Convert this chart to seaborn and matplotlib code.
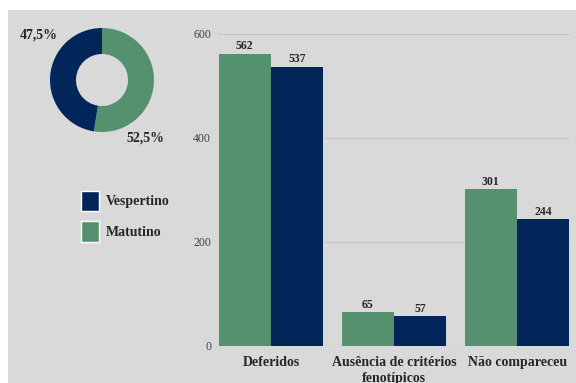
import seaborn as sns
import matplotlib.pyplot as plt
import pandas as pd
from matplotlib.patches import Rectangle, Patch

# dados
categorias = ["Deferidos", "Ausência de critérios\nfenotípicos", "Não compareceu"]
matutino = [562, 65, 301]
vespertino = [537, 57, 244]
turnos = ["Matutino", "Vespertino"]
pct_pizza = [52.5, 47.5]
rotulos_pizza = ["52,5%", "47,5%"]
yticks = [0, 200, 400, 600]

verde = "#56916f"
azul = "#03265a"
fundo = "#d9d9d9"

df = pd.DataFrame({
    "categoria": categorias * 2,
    "turno": ["Matutino"] * 3 + ["Vespertino"] * 3,
    "valor": matutino + vespertino,
})

sns.set_style("white")
plt.rcParams["font.family"] = ["Liberation Serif", "DejaVu Serif"]

fig = plt.figure(figsize=(5.76, 3.83), dpi=100, facecolor="white")
fig.add_artist(Rectangle((8 / 576, 0), 1, 1 - 10 / 383, transform=fig.transFigure,
                         facecolor=fundo, edgecolor="none", zorder=-10))

# barras
ax = fig.add_axes([218 / 576, 1 - 346 / 383, 352 / 576, 312 / 383])
ax.set_facecolor(fundo)
sns.barplot(data=df, x="categoria", y="valor", hue="turno", hue_order=turnos,
            palette=[verde, azul], width=0.85, ax=ax, legend=False, zorder=3,
            saturation=1, linewidth=0)
for cont in ax.containers:
    ax.bar_label(cont, fontsize=8.5, fontweight="bold", padding=1)
ax.set_ylim(0, 600)
ax.set_xlim(-0.43, 2.43)
ax.set_yticks(yticks)
ax.yaxis.grid(True, color="#c6c6c6", linewidth=0.8, zorder=0)
ax.tick_params(axis="y", length=0, pad=5, labelsize=8.5, labelcolor="#404040")
ax.tick_params(axis="x", length=0, pad=7, labelsize=10)
for lbl in ax.get_xticklabels():
    lbl.set_fontweight("bold")
    lbl.set_linespacing(1.35)
ax.set_xlabel("")
ax.set_ylabel("")
sns.despine(ax=ax, left=True, bottom=True)

# rosca
axp = fig.add_axes([50 / 576, 1 - 132 / 383, 104 / 576, 104 / 383])
axp.pie(pct_pizza, colors=[verde, azul], startangle=90, counterclock=False,
        wedgeprops=dict(width=0.5, edgecolor="none"))
axp.set_xlim(-1, 1)
axp.set_ylim(-1, 1)
axp.set_aspect("equal")
axp.text(-1.22, 0.87, rotulos_pizza[1], fontsize=10, fontweight="bold",
         ha="center", va="center", clip_on=False)
axp.text(0.83, -1.12, rotulos_pizza[0], fontsize=10, fontweight="bold",
         ha="center", va="center", clip_on=False)

# legenda
handles = [Patch(facecolor=azul, label="Vespertino"), Patch(facecolor=verde, label="Matutino")]
fig.legend(handles=handles, loc="upper left", bbox_to_anchor=(68 / 576, 1 - 178 / 383),
           frameon=False, prop={"weight": "bold", "size": 10},
           handlelength=1.3, handleheight=1.9, labelspacing=0.75, handletextpad=0.5)

fig.savefig("out.png", dpi=100, facecolor=fig.get_facecolor())
